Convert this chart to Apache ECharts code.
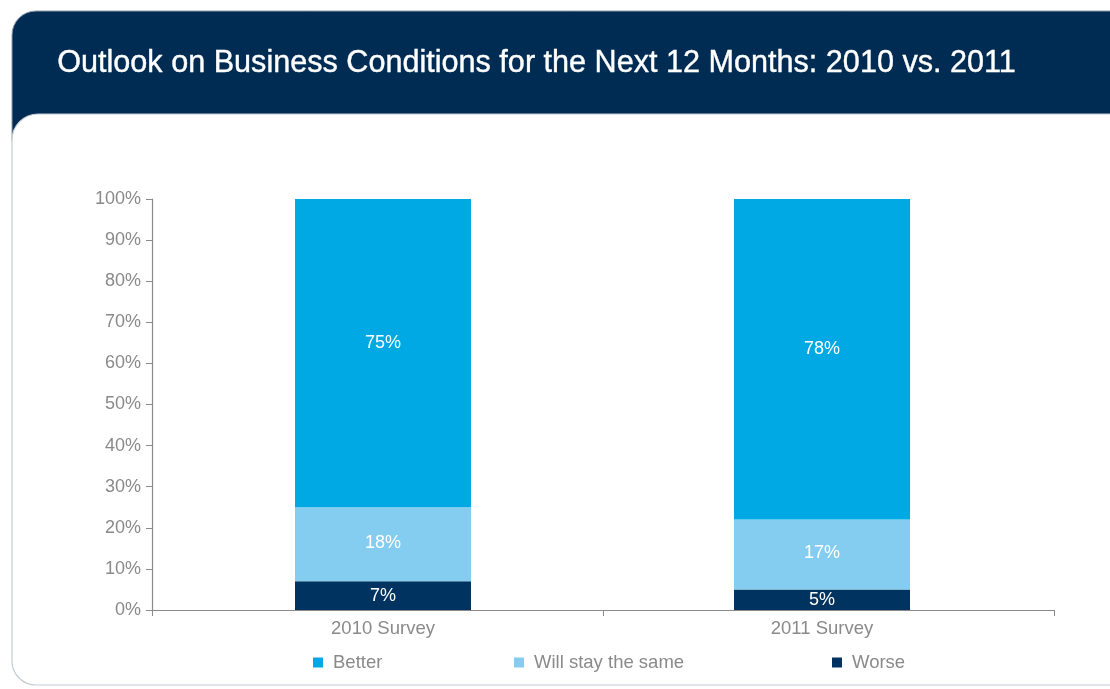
<!DOCTYPE html>
<html>
<head>
<meta charset="utf-8">
<script src="https://cdn.jsdelivr.net/npm/echarts@6/dist/echarts.min.js"></script>
<style>
  html, body { margin: 0; padding: 0; background: #ffffff; }
  #chart { width: 1110px; height: 689px; }
</style>
</head>
<body>
<div id="chart"></div>
<script>
// Survey categories and the share of answers per outlook (percent)
const categories = ['2010 Survey', '2011 Survey'];
const worse = [7, 5];
const staySame = [18, 17];
const better = [75, 78];
const seriesNames = ['Better', 'Will stay the same', 'Worse'];
const titleText = 'Outlook on Business Conditions for the Next 12 Months: 2010 vs. 2011';

const NAVY = '#002b52';
const COLORS = { 'Better': '#00a9e4', 'Will stay the same': '#85cdf0', 'Worse': '#00335f' };
const FONT = '"Liberation Sans", Arial, Helvetica, sans-serif';
const GRAY = '#8a8a8a';

const chart = echarts.init(document.getElementById('chart'), null, { renderer: 'canvas' });

function barSeries(name, data, offsetY) {
  return {
    name: name,
    type: 'bar',
    stack: 'total',
    xAxisIndex: 1,
    yAxisIndex: 1,
    data: data,
    barWidth: 176,
    itemStyle: { color: COLORS[name] },
    label: {
      show: true,
      position: 'inside',
      offset: [0, offsetY],
      color: '#ffffff',
      fontFamily: FONT,
      fontSize: 18,
      formatter: p => p.value + '%'
    },
    emphasis: { disabled: true }
  };
}

function legendAt(name, left) {
  return {
    data: [name],
    left: left,
    top: 648,
    icon: 'rect',
    itemWidth: 10,
    itemHeight: 10,
    selectedMode: false,
    textStyle: { color: GRAY, fontFamily: FONT, fontSize: 18.5, padding: [0, 0, 0, 5] }
  };
}

chart.setOption({
  animation: false,
  backgroundColor: '#ffffff',
  graphic: [
    {
      type: 'rect',
      z: -10,
      shape: { x: 12, y: 11, width: 1120, height: 130, r: [24, 0, 0, 0] },
      style: { fill: NAVY, stroke: '#8c9bab', lineWidth: 1 }
    },
    {
      type: 'rect',
      z: -9,
      shape: { x: 12, y: 114, width: 1120, height: 571, r: [26, 0, 0, 24] },
      style: { fill: '#ffffff', stroke: '#c3cbd3', lineWidth: 1.2 }
    },
    {
      type: 'text',
      z: 5,
      left: 57,
      top: 48,
      style: {
        text: titleText,
        fill: '#ffffff',
        stroke: '#ffffff',
        lineWidth: 0.4,
        font: '30.6px ' + FONT
      }
    }
  ],
  legend: [
    legendAt('Better', 308),
    legendAt('Will stay the same', 509),
    legendAt('Worse', 827)
  ],
  grid: [
    // frame grid: carries the visible axis lines and ticks
    { left: 152, right: 56, top: 199, bottom: 79, containLabel: false },
    // bar grid: the stacked columns and their category labels
    { left: 163.5, right: 68.5, top: 199, bottom: 79, containLabel: false }
  ],
  xAxis: [
    {
      type: 'category',
      gridIndex: 0,
      data: categories,
      axisLine: { show: true, lineStyle: { color: GRAY, width: 1.2 } },
      axisTick: { show: true, alignWithLabel: false, length: 6, lineStyle: { color: GRAY } },
      axisLabel: { show: false }
    },
    {
      type: 'category',
      gridIndex: 1,
      data: categories,
      axisLine: { show: false },
      axisTick: { show: false },
      axisLabel: { color: GRAY, fontFamily: FONT, fontSize: 18.5, margin: 9 }
    }
  ],
  yAxis: [
    {
      type: 'value',
      gridIndex: 0,
      min: 0,
      max: 100,
      interval: 10,
      splitLine: { show: false },
      axisLine: { show: true, lineStyle: { color: GRAY, width: 1.2 } },
      axisTick: { show: true, length: 6, lineStyle: { color: GRAY } },
      axisLabel: { color: GRAY, fontFamily: FONT, fontSize: 18, margin: 11, formatter: '{value}%' }
    },
    {
      type: 'value',
      gridIndex: 1,
      min: 0,
      max: 100,
      interval: 10,
      show: false,
      splitLine: { show: false }
    }
  ],
  series: [
    barSeries('Worse', worse, 0),
    barSeries('Will stay the same', staySame, -1.5),
    barSeries('Better', better, -10)
  ]
});
</script>
</body>
</html>
